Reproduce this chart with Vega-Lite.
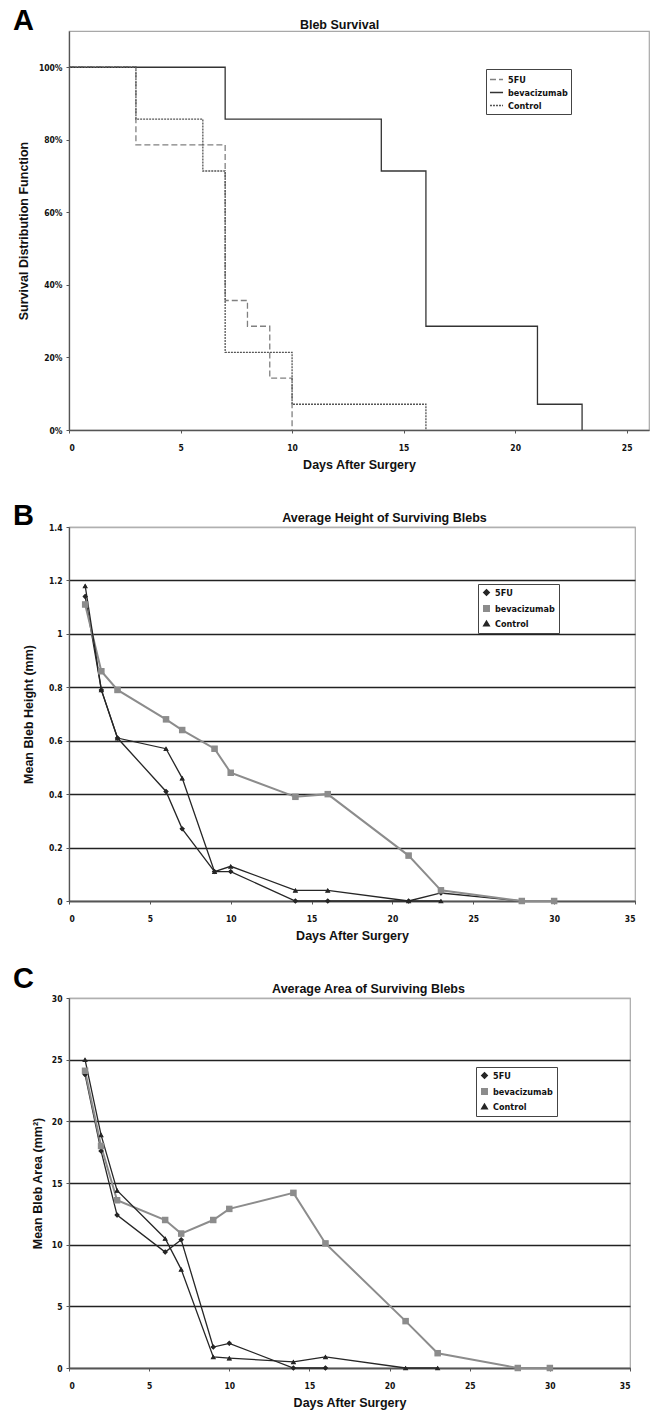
{
  "$schema": "https://vega.github.io/schema/vega-lite/v6.json",
  "padding": {"left": 12, "top": 6, "right": 5, "bottom": 2},
  "background": "white",
  "config": {
    "font": "Liberation Sans",
    "view": {"stroke": "#a8a8a8", "strokeWidth": 1.2},
    "axis": {
      "labelFont": "DejaVu Sans Condensed, Liberation Sans", "labelFontWeight": "bold", "labelFontSize": 8.5, "labelColor": "#111",
      "titleFont": "Liberation Sans", "titleFontSize": 12.5, "titleFontWeight": "bold", "titleColor": "#111",
      "domainColor": "#555", "domainWidth": 1.3, "tickColor": "#555", "tickSize": 3
    },
    "legend": {
      "labelFont": "DejaVu Sans Condensed, Liberation Sans", "labelFontWeight": "bold", "labelFontSize": 9, "labelColor": "#111",
      "strokeColor": "#444", "fillColor": "white", "padding": 4, "rowPadding": 3, "title": null
    },
    "title": {"font": "Liberation Sans", "fontWeight": "bold", "fontSize": 29, "color": "#000", "anchor": "start", "frame": "group", "offset": 0, "baseline": "alphabetic", "dx": -56}
  },
  "datasets": {
    "surv": [
      {"group": "5FU", "day": 0, "surv": 1.0},
      {"group": "5FU", "day": 3, "surv": 0.786},
      {"group": "5FU", "day": 7, "surv": 0.357},
      {"group": "5FU", "day": 8, "surv": 0.286},
      {"group": "5FU", "day": 9, "surv": 0.143},
      {"group": "5FU", "day": 10, "surv": 0.0},
      {"group": "bevacizumab", "day": 0, "surv": 1.0},
      {"group": "bevacizumab", "day": 7, "surv": 0.857},
      {"group": "bevacizumab", "day": 14, "surv": 0.714},
      {"group": "bevacizumab", "day": 16, "surv": 0.286},
      {"group": "bevacizumab", "day": 21, "surv": 0.071},
      {"group": "bevacizumab", "day": 23, "surv": 0.0},
      {"group": "Control", "day": 0, "surv": 1.0},
      {"group": "Control", "day": 3, "surv": 0.857},
      {"group": "Control", "day": 6, "surv": 0.714},
      {"group": "Control", "day": 7, "surv": 0.214},
      {"group": "Control", "day": 10, "surv": 0.071},
      {"group": "Control", "day": 16, "surv": 0.0}
    ],
    "height": [
      {"group": "5FU", "day": 1, "v": 1.14},
      {"group": "5FU", "day": 2, "v": 0.79},
      {"group": "5FU", "day": 3, "v": 0.61},
      {"group": "5FU", "day": 6, "v": 0.41},
      {"group": "5FU", "day": 7, "v": 0.27},
      {"group": "5FU", "day": 9, "v": 0.11},
      {"group": "5FU", "day": 10, "v": 0.11},
      {"group": "5FU", "day": 14, "v": 0.0},
      {"group": "5FU", "day": 16, "v": 0.0},
      {"group": "5FU", "day": 21, "v": 0.0},
      {"group": "5FU", "day": 23, "v": 0.03},
      {"group": "5FU", "day": 28, "v": 0.0},
      {"group": "bevacizumab", "day": 1, "v": 1.11},
      {"group": "bevacizumab", "day": 2, "v": 0.86},
      {"group": "bevacizumab", "day": 3, "v": 0.79},
      {"group": "bevacizumab", "day": 6, "v": 0.68},
      {"group": "bevacizumab", "day": 7, "v": 0.64},
      {"group": "bevacizumab", "day": 9, "v": 0.57},
      {"group": "bevacizumab", "day": 10, "v": 0.48},
      {"group": "bevacizumab", "day": 14, "v": 0.39},
      {"group": "bevacizumab", "day": 16, "v": 0.40},
      {"group": "bevacizumab", "day": 21, "v": 0.17},
      {"group": "bevacizumab", "day": 23, "v": 0.04},
      {"group": "bevacizumab", "day": 28, "v": 0.0},
      {"group": "bevacizumab", "day": 30, "v": 0.0},
      {"group": "Control", "day": 1, "v": 1.18},
      {"group": "Control", "day": 2, "v": 0.79},
      {"group": "Control", "day": 3, "v": 0.61},
      {"group": "Control", "day": 6, "v": 0.57},
      {"group": "Control", "day": 7, "v": 0.46},
      {"group": "Control", "day": 9, "v": 0.11},
      {"group": "Control", "day": 10, "v": 0.13},
      {"group": "Control", "day": 14, "v": 0.04},
      {"group": "Control", "day": 16, "v": 0.04},
      {"group": "Control", "day": 21, "v": 0.0},
      {"group": "Control", "day": 23, "v": 0.0}
    ],
    "area": [
      {"group": "5FU", "day": 1, "v": 23.8},
      {"group": "5FU", "day": 2, "v": 17.6},
      {"group": "5FU", "day": 3, "v": 12.4},
      {"group": "5FU", "day": 6, "v": 9.4},
      {"group": "5FU", "day": 7, "v": 10.4},
      {"group": "5FU", "day": 9, "v": 1.7},
      {"group": "5FU", "day": 10, "v": 2.0},
      {"group": "5FU", "day": 14, "v": 0.0},
      {"group": "5FU", "day": 16, "v": 0.0},
      {"group": "bevacizumab", "day": 1, "v": 24.1},
      {"group": "bevacizumab", "day": 2, "v": 18.0},
      {"group": "bevacizumab", "day": 3, "v": 13.6},
      {"group": "bevacizumab", "day": 6, "v": 12.0},
      {"group": "bevacizumab", "day": 7, "v": 10.9},
      {"group": "bevacizumab", "day": 9, "v": 12.0},
      {"group": "bevacizumab", "day": 10, "v": 12.9},
      {"group": "bevacizumab", "day": 14, "v": 14.2},
      {"group": "bevacizumab", "day": 16, "v": 10.1},
      {"group": "bevacizumab", "day": 21, "v": 3.8},
      {"group": "bevacizumab", "day": 23, "v": 1.2},
      {"group": "bevacizumab", "day": 28, "v": 0.0},
      {"group": "bevacizumab", "day": 30, "v": 0.0},
      {"group": "Control", "day": 1, "v": 25.0},
      {"group": "Control", "day": 2, "v": 18.9},
      {"group": "Control", "day": 3, "v": 14.4},
      {"group": "Control", "day": 6, "v": 10.5},
      {"group": "Control", "day": 7, "v": 8.0},
      {"group": "Control", "day": 9, "v": 0.9},
      {"group": "Control", "day": 10, "v": 0.8},
      {"group": "Control", "day": 14, "v": 0.5},
      {"group": "Control", "day": 16, "v": 0.9},
      {"group": "Control", "day": 21, "v": 0.0},
      {"group": "Control", "day": 23, "v": 0.0}
    ]
  },
  "bounds": "flush",
  "spacing": 97,
  "resolve": {
    "scale": {"x": "independent", "y": "independent", "color": "independent", "shape": "independent", "strokeDash": "independent"},
    "legend": {"color": "independent", "shape": "independent", "strokeDash": "independent"}
  },
  "vconcat": [
    {
      "width": 580,
      "height": 399,
      "title": {"text": "A", "dy": 22},
      "data": {"name": "surv"},
      "resolve": {"axis": {"x": "independent"}},
      "layer": [
        {
          "mark": {"type": "line", "interpolate": "step-after", "strokeWidth": 1.3},
          "encoding": {
            "x": {"field": "day", "type": "quantitative", "scale": {"domain": [0, 25]},
                  "axis": {"values": [0, 5, 10, 15, 20, 25], "grid": false, "title": "Days After Surgery", "labelPadding": 10, "titlePadding": 7}},
            "y": {"field": "surv", "type": "quantitative", "scale": {"domain": [0, 1.05]},
                  "axis": {"values": [0, 0.2, 0.4, 0.6, 0.8, 1], "format": ".0%", "grid": false, "title": "Survival Distribution Function", "labelPadding": 4, "titlePadding": 8}},
            "color": {"field": "group", "type": "nominal",
                      "scale": {"domain": ["5FU", "bevacizumab", "Control"], "range": ["#808080", "#333333", "#555555"]},
                      "legend": {"orient": "none", "legendX": 417, "legendY": 38, "symbolType": "stroke", "symbolSize": 170, "symbolStrokeWidth": 1.3, "rowPadding": 0, "padding": 3}},
            "strokeDash": {"field": "group", "type": "nominal",
                           "scale": {"domain": ["5FU", "bevacizumab", "Control"], "range": [[6, 3], [1, 0], [2, 1]]}}
          }
        },
        {
          "mark": {"type": "point", "opacity": 0},
          "encoding": {
            "x": {"field": "day", "type": "quantitative",
                  "axis": {"orient": "top", "labels": false, "ticks": false, "domain": false, "grid": false,
                           "title": "Bleb Survival", "titleX": 270, "titleY": -3, "titleAngle": 0, "titleAlign": "center", "titleBaseline": "alphabetic"}},
            "y": {"field": "surv", "type": "quantitative"}
          }
        }
      ]
    },
    {
      "width": 566,
      "height": 374,
      "title": {"text": "B", "dy": 24},
      "data": {"name": "height"},
      "resolve": {"axis": {"x": "independent"}},
      "encoding": {
        "y": {"field": "v", "type": "quantitative", "scale": {"domain": [0, 1.4]},
              "axis": {"values": [0, 0.2, 0.4, 0.6, 0.8, 1, 1.2, 1.4], "gridColor": {"condition": {"test": "datum.value > 1.3", "value": "#b0b0b0"}, "value": "#222"}, "gridWidth": 1.3, "format": "~g", "title": "Mean Bleb Height (mm)", "labelPadding": 4, "titlePadding": 13}},
        "color": {"field": "group", "type": "nominal",
                  "scale": {"domain": ["5FU", "bevacizumab", "Control"], "range": ["#262626", "#8c8c8c", "#262626"]},
                  "legend": {"orient": "none", "legendX": 409, "legendY": 57, "symbolSize": 30}},
        "shape": {"field": "group", "type": "nominal",
                  "scale": {"domain": ["5FU", "bevacizumab", "Control"], "range": ["diamond", "square", "triangle-up"]}}
      },
      "layer": [
        {
          "mark": {"type": "line"},
          "encoding": {
            "x": {"field": "day", "type": "quantitative", "scale": {"domain": [0, 35]},
                  "axis": {"values": [0, 5, 10, 15, 20, 25, 30, 35], "grid": false, "title": "Days After Surgery", "labelPadding": 10, "titlePadding": 7}},
            "strokeWidth": {"condition": {"test": "datum.group == 'bevacizumab'", "value": 2}, "value": 1.3}
          }
        },
        {
          "mark": {"type": "point", "filled": true, "opacity": 1},
          "encoding": {
            "x": {"field": "day", "type": "quantitative",
                  "axis": {"orient": "top", "labels": false, "ticks": false, "domain": false, "grid": false,
                           "title": "Average Height of Surviving Blebs", "titleX": 315, "titleY": -6, "titleAngle": 0, "titleAlign": "center", "titleBaseline": "alphabetic"}},
            "size": {"condition": {"test": "datum.group == 'bevacizumab'", "value": 42}, "value": 22}
          }
        }
      ]
    },
    {
      "width": 561,
      "height": 370,
      "title": {"text": "C", "dy": 16},
      "data": {"name": "area"},
      "resolve": {"axis": {"x": "independent"}},
      "encoding": {
        "y": {"field": "v", "type": "quantitative", "scale": {"domain": [0, 30]},
              "axis": {"values": [0, 5, 10, 15, 20, 25, 30], "gridColor": {"condition": {"test": "datum.value > 28", "value": "#b0b0b0"}, "value": "#222"}, "gridWidth": 1.3, "title": "Mean Bleb Area (mm²)", "labelPadding": 4, "titlePadding": 7}},
        "color": {"field": "group", "type": "nominal",
                  "scale": {"domain": ["5FU", "bevacizumab", "Control"], "range": ["#262626", "#8c8c8c", "#262626"]},
                  "legend": {"orient": "none", "legendX": 407, "legendY": 69, "symbolSize": 30}},
        "shape": {"field": "group", "type": "nominal",
                  "scale": {"domain": ["5FU", "bevacizumab", "Control"], "range": ["diamond", "square", "triangle-up"]}}
      },
      "layer": [
        {
          "mark": {"type": "line"},
          "encoding": {
            "x": {"field": "day", "type": "quantitative", "scale": {"domain": [0, 35]},
                  "axis": {"values": [0, 5, 10, 15, 20, 25, 30, 35], "grid": false, "title": "Days After Surgery", "labelPadding": 10, "titlePadding": 7}},
            "strokeWidth": {"condition": {"test": "datum.group == 'bevacizumab'", "value": 2}, "value": 1.3}
          }
        },
        {
          "mark": {"type": "point", "filled": true, "opacity": 1},
          "encoding": {
            "x": {"field": "day", "type": "quantitative",
                  "axis": {"orient": "top", "labels": false, "ticks": false, "domain": false, "grid": false,
                           "title": "Average Area of Surviving Blebs", "titleX": 299, "titleY": -6, "titleAngle": 0, "titleAlign": "center", "titleBaseline": "alphabetic"}},
            "size": {"condition": {"test": "datum.group == 'bevacizumab'", "value": 42}, "value": 22}
          }
        }
      ]
    }
  ]
}
